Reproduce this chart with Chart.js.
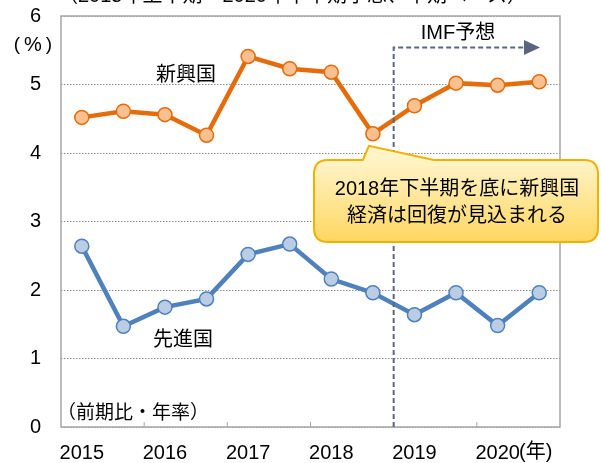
<!DOCTYPE html>
<html>
<head>
<meta charset="utf-8">
<script src="https://cdn.jsdelivr.net/npm/chart.js@4.4.1/dist/chart.umd.min.js"></script>
<style>
  html, body { margin: 0; padding: 0; background: #fff; }
  #wrap { width: 601px; height: 463px; }
</style>
</head>
<body>
<div id="wrap"><canvas id="chart" width="601" height="463"></canvas></div>
<script>
// half-year periods, 2015 H1 .. 2020 H2
const periods = ['2015上', '2015下', '2016上', '2016下', '2017上', '2017下',
                 '2018上', '2018下', '2019上', '2019下', '2020上', '2020下'];
const yearLabels = ['2015', '2016', '2017', '2018', '2019', '2020'];
const emerging = [4.52, 4.61, 4.56, 4.26, 5.41, 5.23, 5.18, 4.28, 4.69, 5.02, 4.99, 5.04];
const advanced = [2.64, 1.47, 1.75, 1.87, 2.52, 2.67, 2.16, 1.96, 1.64, 1.96, 1.48, 1.96];
const yTicks = [0, 1, 2, 3, 4, 5, 6];
const forecastStart = 8; // first IMF forecast period

const FONT = '"Liberation Sans", "Noto Sans CJK JP", sans-serif';
const JP = '"Noto Sans CJK JP", "Liberation Sans", sans-serif';

const overlay = {
    id: 'overlay',
    afterDatasetsDraw(chart) {
        const ctx = chart.ctx;
        const area = chart.chartArea;
        const x = chart.scales.x;
        const y = chart.scales.y;
        ctx.save();

        // frame
        ctx.strokeStyle = '#a6a6a6';
        ctx.lineWidth = 1.5;
        ctx.setLineDash([]);
        ctx.strokeRect(area.left, area.top, area.right - area.left, area.bottom - area.top);

        // inner tick marks at year boundaries
        ctx.lineWidth = 1;
        for (let i = 2; i < periods.length; i += 2) {
            const bx = (x.getPixelForValue(i - 1) + x.getPixelForValue(i)) / 2;
            ctx.beginPath();
            ctx.moveTo(bx, area.bottom);
            ctx.lineTo(bx, area.bottom - 5);
            ctx.stroke();
        }

        // IMF forecast marker
        const fx = (x.getPixelForValue(forecastStart - 1) + x.getPixelForValue(forecastStart)) / 2;
        const fy = 47.5;
        ctx.strokeStyle = '#5b6580';
        ctx.fillStyle = '#5b6580';
        ctx.lineWidth = 2;
        ctx.setLineDash([5, 3]);
        ctx.beginPath();
        ctx.moveTo(fx, area.bottom);
        ctx.lineTo(fx, fy);
        ctx.lineTo(525, fy);
        ctx.stroke();
        ctx.setLineDash([]);
        ctx.beginPath();
        ctx.moveTo(524, fy - 7.5);
        ctx.lineTo(540, fy);
        ctx.lineTo(524, fy + 7.5);
        ctx.closePath();
        ctx.fill();

        // texts
        ctx.fillStyle = '#000';
        ctx.textAlign = 'center';
        ctx.textBaseline = 'middle';
        ctx.font = '20px ' + FONT;
        ctx.fillText('IMF予想', 458, 33);
        ctx.font = '20px ' + JP;
        ctx.fillText('新興国', 186, 73);
        ctx.fillText('先進国', 183, 338);
        ctx.font = '19px ' + JP;
        ctx.textAlign = 'left';
        ctx.fillText('（前期比・年率）', 57, 412);
        ctx.textAlign = 'center';
        ctx.font = '19px ' + FONT;
        ctx.fillText('(', 17, 45);
        ctx.fillText(')', 49, 45);
        ctx.font = '20px ' + FONT;
        ctx.fillText('%', 33, 45);
        ctx.textAlign = 'left';
        ctx.fillText('(年)', 519, 452);
        ctx.textBaseline = 'alphabetic';
        ctx.fillText('（2015年上半期～2020年下半期予想、半期ベース）', 58, 2);

        // callout box pointing at 2018 H2 emerging value
        const px = x.getPixelForValue(7);
        const py = y.getPixelForValue(emerging[7]);
        const L = 314, R = 598, T = 160, B = 242, r = 14;
        const tipX = px - 4, tipY = py + 12;
        ctx.beginPath();
        ctx.moveTo(L + r, T);
        ctx.lineTo(px - 10, T);
        ctx.lineTo(tipX, tipY);
        ctx.lineTo(px + 61, T);
        ctx.lineTo(R - r, T);
        ctx.quadraticCurveTo(R, T, R, T + r);
        ctx.lineTo(R, B - r);
        ctx.quadraticCurveTo(R, B, R - r, B);
        ctx.lineTo(L + r, B);
        ctx.quadraticCurveTo(L, B, L, B - r);
        ctx.lineTo(L, T + r);
        ctx.quadraticCurveTo(L, T, L + r, T);
        ctx.closePath();
        const grad = ctx.createLinearGradient(0, T, 0, B);
        grad.addColorStop(0, '#fff4c8');
        grad.addColorStop(1, '#ffd660');
        ctx.fillStyle = grad;
        ctx.fill();
        ctx.strokeStyle = '#f2b000';
        ctx.lineWidth = 2;
        ctx.stroke();

        ctx.fillStyle = '#000';
        ctx.textAlign = 'center';
        ctx.textBaseline = 'middle';
        ctx.font = '20px ' + FONT;
        ctx.fillText('2018年下半期を底に新興国', 457, 189);
        ctx.fillText('経済は回復が見込まれる', 457, 216);
        ctx.restore();
    }
};

new Chart(document.getElementById('chart'), {
    type: 'line',
    data: {
        labels: periods,
        datasets: [{
            label: '新興国',
            data: emerging,
            borderColor: '#e46c0a',
            borderWidth: 4.5,
            pointRadius: 7,
            pointBackgroundColor: '#fac090',
            pointBorderColor: '#e46c0a',
            pointBorderWidth: 1.5,
            tension: 0
        }, {
            label: '先進国',
            data: advanced,
            borderColor: '#4f81bd',
            borderWidth: 4.5,
            pointRadius: 7,
            pointBackgroundColor: '#b9cde5',
            pointBorderColor: '#4f81bd',
            pointBorderWidth: 1.5,
            tension: 0
        }]
    },
    options: {
        responsive: false,
        animation: false,
        layout: { padding: { top: 16, right: 41, left: 0, bottom: 0 } },
        plugins: { legend: { display: false }, tooltip: { enabled: false } },
        scales: {
            x: {
                offset: true,
                grid: { display: false },
                border: { display: false },
                ticks: {
                    autoSkip: false,
                    maxRotation: 0,
                    padding: 6,
                    color: '#000',
                    font: { size: 20, family: FONT },
                    callback: (v, i) => (i % 2 === 0 ? yearLabels[i / 2] : '')
                },
                afterFit: s => { s.height = 36; s.paddingLeft = 0; s.paddingRight = 0; }
            },
            y: {
                min: 0,
                max: 6,
                afterBuildTicks: s => { s.ticks = yTicks.map(v => ({ value: v })); },
                grid: { color: '#8c8c8c', lineWidth: 1, drawTicks: false },
                border: { display: false, dash: [1.5, 1.5] },
                ticks: {
                    padding: 20,
                    color: '#000',
                    font: { size: 20, family: FONT }
                },
                afterFit: s => { s.width = 61; s.paddingTop = 0; s.paddingBottom = 0; }
            }
        }
    },
    plugins: [overlay]
});
</script>
</body>
</html>
